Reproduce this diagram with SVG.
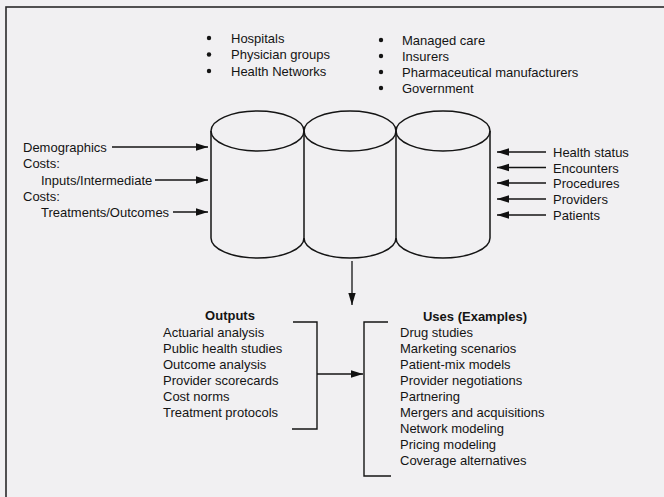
<svg xmlns="http://www.w3.org/2000/svg" width="664" height="497" viewBox="0 0 664 497">
<defs>
<marker id="ah" markerUnits="userSpaceOnUse" markerWidth="13" markerHeight="9" refX="12" refY="4.5" orient="auto">
<path d="M0,0.8 L12,4.5 L0,8.2 Z" fill="#111"/>
</marker>
<style>
text{font-family:"Liberation Sans",Arial,sans-serif;font-size:13px;fill:#141414}
.b{font-weight:bold;text-anchor:middle}
.cyl{fill:none;stroke:#141414;stroke-width:1.5}
.ln{fill:none;stroke:#141414;stroke-width:1.4}
.ar{fill:none;stroke:#141414;stroke-width:1.3;marker-end:url(#ah)}
</style>
</defs>
<rect x="0" y="0" width="664" height="497" fill="#f1f0f2"/>
<rect x="6" y="7" width="720" height="600" fill="none" stroke="#2a2a2a" stroke-width="1.6"/>

<g id="sources-left">
<circle cx="209" cy="38" r="2.2" fill="#141414"/>
<circle cx="209" cy="54.5" r="2.2" fill="#141414"/>
<circle cx="209" cy="71" r="2.2" fill="#141414"/>
<text x="231" y="42.7">Hospitals</text>
<text x="231" y="59.2">Physician groups</text>
<text x="231" y="75.7">Health Networks</text>
</g>
<g id="sources-right">
<circle cx="381" cy="40" r="2.2" fill="#141414"/>
<circle cx="381" cy="56" r="2.2" fill="#141414"/>
<circle cx="381" cy="72" r="2.2" fill="#141414"/>
<circle cx="381" cy="88" r="2.2" fill="#141414"/>
<text x="402" y="44.7">Managed care</text>
<text x="402" y="60.7">Insurers</text>
<text x="402" y="76.7">Pharmaceutical manufacturers</text>
<text x="402" y="92.7">Government</text>
</g>

<g id="cylinder-1">
<ellipse class="cyl" cx="257.5" cy="131" rx="46.5" ry="20"/>
<path class="cyl" d="M211,131 V238 A46.5,20 0 0 0 304,238 V131"/>
</g>
<g id="cylinder-2">
<ellipse class="cyl" cx="350" cy="131" rx="46" ry="20"/>
<path class="cyl" d="M304,238 A46,20 0 0 0 396,238 V131"/>
</g>
<g id="cylinder-3">
<ellipse class="cyl" cx="443" cy="131" rx="47" ry="20"/>
<path class="cyl" d="M396,238 A47,20 0 0 0 490,238 V131"/>
</g>

<g id="inputs-left">
<text x="23" y="151.7">Demographics</text>
<text x="23" y="168">Costs:</text>
<text x="41" y="184.5">Inputs/Intermediate</text>
<text x="23" y="200.5">Costs:</text>
<text x="41" y="216.7">Treatments/Outcomes</text>
</g>
<g id="inputs-right">
<text x="553" y="156.7">Health status</text>
<text x="553" y="172.5">Encounters</text>
<text x="553" y="188.3">Procedures</text>
<text x="553" y="204">Providers</text>
<text x="553" y="219.8">Patients</text>
</g>

<g id="outputs">
<text class="b" x="230" y="319.7">Outputs</text>
<text x="163" y="336.7">Actuarial analysis</text>
<text x="163" y="352.7">Public health studies</text>
<text x="163" y="368.7">Outcome analysis</text>
<text x="163" y="384.7">Provider scorecards</text>
<text x="163" y="400.7">Cost norms</text>
<text x="163" y="416.7">Treatment protocols</text>
<path class="ln" d="M293,322 H317 V429 H292"/>
</g>

<g id="uses">
<text class="b" x="475" y="320.7">Uses (Examples)</text>
<text x="400" y="336.7">Drug studies</text>
<text x="400" y="352.7">Marketing scenarios</text>
<text x="400" y="368.7">Patient-mix models</text>
<text x="400" y="384.7">Provider negotiations</text>
<text x="400" y="400.7">Partnering</text>
<text x="400" y="416.7">Mergers and acquisitions</text>
<text x="400" y="432.7">Network modeling</text>
<text x="400" y="448.7">Pricing modeling</text>
<text x="400" y="464.7">Coverage alternatives</text>
<path class="ln" d="M388,322 H364 V476 H391"/>
</g>

<g id="connectors">
<line class="ar" x1="112" y1="147" x2="208" y2="147"/>
<line class="ar" x1="155" y1="180" x2="208" y2="180"/>
<line class="ar" x1="173" y1="212" x2="208" y2="212"/>
<line class="ar" x1="546" y1="152" x2="497" y2="152"/>
<line class="ar" x1="546" y1="167.5" x2="497" y2="167.5"/>
<line class="ar" x1="546" y1="183" x2="497" y2="183"/>
<line class="ar" x1="546" y1="199" x2="497" y2="199"/>
<line class="ar" x1="546" y1="215" x2="497" y2="215"/>
<line class="ar" x1="352" y1="261" x2="352" y2="305"/>
<line class="ar" x1="317" y1="374" x2="363" y2="374"/>
</g>
</svg>
